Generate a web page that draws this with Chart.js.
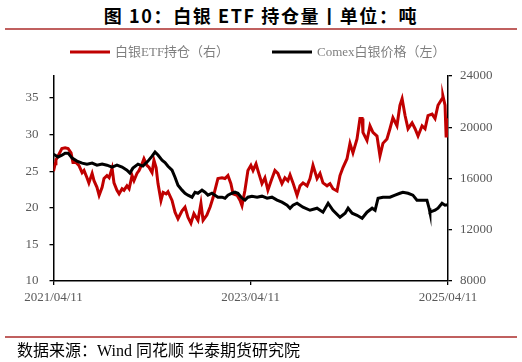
<!DOCTYPE html>
<html>
<head>
<meta charset="utf-8">
<script src="https://cdn.jsdelivr.net/npm/chart.js@4.4.1/dist/chart.umd.min.js"></script>
<style>
  body { margin: 0; background: #fff; }
  #wrap { position: relative; width: 522px; height: 362px; overflow: hidden; }
  #chart { position: absolute; left: 0; top: 0; }
  .title { position: absolute; left: 0; width: 522px; top: 2px; text-align: center;
    font: 700 18px "Noto Sans CJK SC", sans-serif; color: #000; letter-spacing: 1.6px; }
  .rule { position: absolute; left: 5px; width: 512px; height: 2px; background: #c0605f; }
  .source { position: absolute; left: 17px; top: 337px;
    font: 16px "Liberation Serif", "Noto Sans CJK SC", serif; color: #000; }
</style>
</head>
<body>
<div id="wrap">
  <div class="title">图 10：白银 ETF 持仓量丨单位：吨</div>
  <div class="rule" style="top:28px"></div>
  <canvas id="chart" width="522" height="362"></canvas>
  <div class="rule" style="top:336px"></div>
  <div class="source">数据来源：Wind 同花顺 华泰期货研究院</div>
</div>
<script>
// days counted from 2021/04/11
const redDays = [
  0,6,9,17,31,43,54,65,72,83,
  94,106,113,124,131,143,150,161,169,180,
  187,198,206,217,224,235,243,254,261,272,
  280,291,298,309,317,328,335,346,354,365,
  372,380,387,398,406,417,424,439,450,461,
  476,487,498,509,520,535,546,554,568,580,
  591,602,609,624,635,646,657,665,680,691,
  698,709,720,731,739,750,757,772,783,794,
  806,820,831,846,857,868,876,887,902,913,
  924,939,950,961,976,987,998,1013,1024,1035,
  1050,1061,1072,1087,1098,1109,1124,1135,1143,1146,
  1161,1172,1183,1198,1209,1220,1235,1246,1257,1272,
  1283,1291,1302,1313,1328,1339,1350,1365,1376,1387,
  1402,1413,1424,1439,1442,1450,1454,1457,1461
];
const redValues = [
  25.0,26.0,26.5,27.1,28.1,28.2,28.1,27.5,26.2,26.2,
  25.8,24.8,25.1,24.1,23.4,24.7,23.7,22.8,21.7,22.8,
  24.0,24.4,24.1,25.4,23.4,22.4,21.9,22.6,22.4,23.0,
  22.6,24.4,23.7,24.7,25.1,26.0,26.7,25.8,25.5,24.8,
  26.5,25.5,23.3,21.0,22.1,21.9,22.2,21.0,19.4,18.5,
  19.6,20.1,18.7,17.9,19.2,18.3,20.6,18.3,19.0,20.1,
  21.4,23.0,24.0,24.1,24.0,24.4,23.3,21.9,21.7,21.0,
  20.3,22.4,25.1,25.8,25.1,26.0,25.1,23.3,24.1,22.4,
  23.7,25.1,24.7,23.3,24.1,23.7,24.5,23.4,21.7,23.0,
  23.4,23.0,24.0,25.8,24.0,24.7,23.4,23.0,23.3,22.6,
  22.3,24.4,25.5,26.7,28.8,27.5,29.4,32.2,32.2,30.3,
  29.2,31.2,30.3,29.8,27.1,28.8,29.4,30.8,32.3,31.2,
  34.0,34.9,32.6,30.8,31.6,30.8,29.8,31.2,30.8,32.6,
  32.8,32.2,34.0,34.9,35.3,34.0,29.8,32.2,31.0
];
const blackDays = [
  0,17,31,43,54,69,87,106,124,143,
  161,180,198,217,235,254,272,283,294,313,
  331,350,365,376,387,402,413,424,439,450,
  461,476,487,498,513,524,535,550,561,572,
  587,598,609,624,635,646,661,672,683,698,
  709,720,735,754,772,791,809,828,846,865,
  876,887,902,924,950,976,998,1017,1035,1061,
  1080,1091,1106,1124,1143,1161,1180,1191,1202,1220,
  1246,1265,1283,1294,1313,1331,1346,1365,1383,1391,
  1394,1413,1424,1439,1450,1461
];
const blackValues = [
  17900,17670,17820,17980,17980,17590,17360,17200,17120,17200,
  17040,17120,17040,16890,17040,16890,16650,16420,16810,17120,
  16970,17360,17750,18060,17830,17430,17240,16960,16650,16100,
  15480,15090,14850,14700,14540,14930,14850,15090,14930,14700,
  14850,14700,14540,14540,14460,14700,14850,14930,14850,14460,
  14310,14540,14620,14540,14620,14460,14540,14310,14150,13920,
  13680,13920,14070,13760,13520,13680,13370,14070,13520,12980,
  13290,13680,13290,13130,12900,13370,13680,13520,14460,14540,
  14540,14700,14850,14930,14850,14700,14310,14310,14310,13680,
  13370,13520,13680,14070,13920,13950
];
const seriesNames = ['白银ETF持仓（右）', 'Comex白银价格（左）'];
const leftTicks = [10, 15, 20, 25, 30, 35];
const rightTicks = [8000, 12000, 16000, 20000, 24000];
const xTicks = [0, 730, 1461];
const xTickLabels = ['2021/04/11', '2023/04/11', '2025/04/11'];

const RED = '#c00000';
const tickFont = { family: 'Liberation Serif', size: 13 };
const tickColor = '#595959';

function zip(xs, ys) {
  return xs.map((x, i) => ({ x: x, y: ys[i] }));
}

// legend drawn on the canvas, above the plot
const topLegend = {
  id: 'topLegend',
  afterDraw(chart) {
    const ctx = chart.ctx;
    const y = 52;
    const starts = [70, 272];
    ctx.save();
    ctx.font = '13px "Liberation Serif", "Noto Sans CJK SC"';
    ctx.textBaseline = 'middle';
    chart.data.datasets.forEach((ds, i) => {
      const x = starts[i];
      ctx.strokeStyle = ds.borderColor;
      ctx.lineWidth = 3;
      ctx.beginPath();
      ctx.moveTo(x, y);
      ctx.lineTo(x + 40, y);
      ctx.stroke();
      ctx.fillStyle = '#7f7f7f';
      ctx.fillText(ds.label, x + 45, y + 1);
    });
    ctx.restore();
  }
};

const axisGrid = { display: true, drawOnChartArea: false, drawTicks: true, tickLength: 4, color: '#000', lineWidth: 1.3 };
const axisBorder = { display: true, color: '#000', width: 1.5 };

new Chart(document.getElementById('chart'), {
  type: 'line',
  data: {
    datasets: [
      { label: seriesNames[0], data: zip(redDays, redValues), yAxisID: 'yL',
        borderColor: RED, backgroundColor: RED, borderWidth: 3, pointRadius: 0, tension: 0, order: 1 },
      { label: seriesNames[1], data: zip(blackDays, blackValues), yAxisID: 'yR',
        borderColor: '#000', backgroundColor: '#000', borderWidth: 3, pointRadius: 0, tension: 0, order: 0 }
    ]
  },
  options: {
    responsive: false,
    animation: false,
    layout: { padding: { top: 76, bottom: 51, left: 0, right: 0 } },
    plugins: { legend: { display: false }, tooltip: { enabled: false } },
    scales: {
      x: {
        type: 'linear', min: 0, max: 1461,
        afterBuildTicks: s => { s.ticks = xTicks.map(v => ({ value: v })); },
        afterFit: s => { s.height = 30; },
        ticks: { callback: (v, i) => xTickLabels[i], autoSkip: false, maxRotation: 0,
          font: tickFont, color: tickColor, padding: 5 },
        grid: axisGrid, border: axisBorder
      },
      yL: {
        type: 'linear', position: 'left', min: 10, max: 38,
        afterBuildTicks: s => { s.ticks = leftTicks.map(v => ({ value: v })); },
        afterFit: s => { s.width = 53.5; },
        ticks: { callback: v => String(v), font: tickFont, color: tickColor, padding: 11 },
        grid: axisGrid, border: axisBorder
      },
      yR: {
        type: 'linear', position: 'right', min: 8000, max: 24000,
        afterBuildTicks: s => { s.ticks = rightTicks.map(v => ({ value: v })); },
        afterFit: s => { s.width = 74; },
        ticks: { callback: v => String(v), font: tickFont, color: tickColor, padding: 8 },
        grid: axisGrid, border: axisBorder
      }
    }
  },
  plugins: [topLegend]
});
</script>
</body>
</html>
